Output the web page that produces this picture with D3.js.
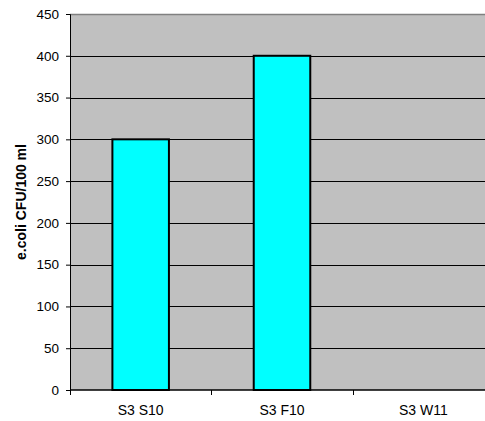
<!DOCTYPE html>
<html><head><meta charset="utf-8">
<script src="https://cdn.jsdelivr.net/npm/d3@7"></script>
<style>body{margin:0;background:#fff}svg{display:block}</style>
</head><body>
<script>
const categories = ["S3 S10", "S3 F10", "S3 W11"];
const values = [300, 400, 0];
const yTicks = [0, 50, 100, 150, 200, 250, 300, 350, 400, 450];
const yLabel = "e.coli CFU/100 ml";

const W = 485, H = 421;
const m = {left: 70, top: 14, right: 494, bottom: 390};
const FONT = "Liberation Sans, Arial, sans-serif";
const svg = d3.select("body").append("svg").attr("width", W).attr("height", H);

const x = d3.scaleBand().domain(categories).range([m.left, m.right]).paddingInner(0).paddingOuter(0);
const y = d3.scaleLinear().domain([0, 450]).range([m.bottom, m.top]);

svg.append("rect").attr("x", m.left).attr("y", m.top)
  .attr("width", m.right - m.left).attr("height", m.bottom - m.top).attr("fill", "#c0c0c0");

svg.append("g").selectAll("line").data(yTicks.filter(d => d > 0 && d < 450)).join("line")
  .attr("x1", m.left).attr("x2", m.right)
  .attr("y1", d => Math.round(y(d)) + 0.5).attr("y2", d => Math.round(y(d)) + 0.5)
  .attr("stroke", "#000").attr("stroke-width", 1);

svg.append("line").attr("x1", m.left).attr("x2", m.right)
  .attr("y1", m.top + 0.5).attr("y2", m.top + 0.5).attr("stroke", "#808080").attr("stroke-width", 1.5);

const bw = x.bandwidth() * 0.4;
svg.append("g").selectAll("rect").data(categories.map((c, i) => ({c, v: values[i]})).filter(d => d.v > 0)).join("rect")
  .attr("x", d => x(d.c) + (x.bandwidth() - bw) / 2)
  .attr("y", d => y(d.v))
  .attr("width", bw)
  .attr("height", d => y(0) - y(d.v))
  .attr("fill", "#00ffff").attr("stroke", "#000").attr("stroke-width", 2);

const yAxis = d3.axisLeft(y).tickValues(yTicks).tickSize(4).tickPadding(7).tickFormat(d3.format("d"));
const gy = svg.append("g").attr("transform", `translate(${m.left},0)`).call(yAxis);
gy.select(".domain").attr("stroke", "#000");
gy.selectAll("text").attr("font-family", FONT).attr("font-size", 13.5).attr("fill", "#000");

const gx = svg.append("g").attr("transform", `translate(0,${m.bottom})`);
gx.append("line").attr("x1", m.left).attr("x2", m.right).attr("y1", 0).attr("y2", 0)
  .attr("stroke", "#000").attr("stroke-width", 1.5);
const bounds = categories.map(c => x(c)).concat([m.right]);
gx.selectAll("line.t").data(bounds).join("line").attr("class", "t")
  .attr("x1", d => Math.round(d) + 0.5).attr("x2", d => Math.round(d) + 0.5)
  .attr("y1", 0).attr("y2", 5).attr("stroke", "#000");
gx.selectAll("text").data(categories).join("text")
  .attr("x", d => x(d) + x.bandwidth() / 2).attr("y", 25)
  .attr("text-anchor", "middle")
  .attr("font-family", FONT).attr("font-size", 14).attr("fill", "#000")
  .text(d => d);

svg.append("text")
  .attr("transform", `translate(26,${(m.top + m.bottom) / 2}) rotate(-90)`)
  .attr("text-anchor", "middle")
  .attr("font-family", FONT).attr("font-size", 14).attr("font-weight", "bold")
  .text(yLabel);
</script>
</body></html>
